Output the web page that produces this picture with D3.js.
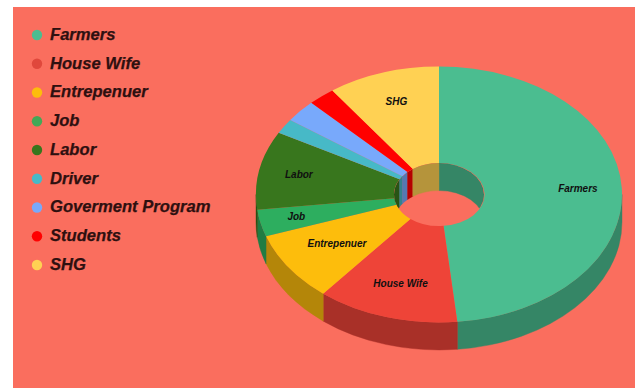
<!DOCTYPE html>
<html>
<head>
<meta charset="utf-8">
<script src="https://cdn.jsdelivr.net/npm/d3@7/dist/d3.min.js"></script>
<style>
  html, body { margin: 0; padding: 0; background: #fff; }
  svg { display: block; }
  text { font-family: "Liberation Sans", Arial, sans-serif; font-weight: bold; font-style: italic; }
</style>
</head>
<body>
<div id="chart"></div>
<script>
// Occupation shares, in percent, clockwise from twelve o'clock
const categories = ["Farmers", "House Wife", "Entrepenuer", "Job", "Labor", "Driver", "Goverment Program", "Students", "SHG"];
const shares = [48.4, 12.5, 8.8, 3.4, 9.9, 1.9, 2.8, 2.4, 9.9];
const colors = ["#4bbd90", "#ee4438", "#fdbd0c", "#2dae5f", "#38761d", "#47b9c7", "#78a9fb", "#ff0000", "#ffd153"];
const legendDotColors = ["#4bbd90", "#e0483c", "#fdbd0c", "#43a857", "#38761d", "#47b9c7", "#78a9fb", "#ff0000", "#ffd153"];
const slicesWithLabels = ["Farmers", "House Wife", "Entrepenuer", "Job", "Labor", "SHG"];
// How far out along its slice each label sits (0 = centre, 1 = rim)
const labelReach = [0.76, 0.73, 0.68, 0.8, 0.78, 0, 0, 0, 0.76];

const width = 635, height = 388;
const cx = 439, cy = 194.5, rx = 183, ry = 128, depth = 27.5;
const holeRatio = 0.246;
const PI = Math.PI;

const svg = d3.select("#chart").append("svg").attr("width", width).attr("height", height);

svg.append("rect").attr("x", 13).attr("y", 7).attr("width", width - 13).attr("height", height - 7).attr("fill", "#fa6e5e");

// Darkened tone for the extruded walls
const shade = c => {
  const k = d3.rgb(c);
  return d3.rgb(k.r * 0.71, k.g * 0.71, k.b * 0.71).formatHex();
};

const pie = d3.pie().value(d => d.value).sort(null);
const slices = pie(categories.map((name, i) => ({ name, value: shares[i], color: colors[i], reach: labelReach[i] })));

const px = (a, r) => cx + rx * r * Math.sin(a);
const py = (a, r) => cy - ry * r * Math.cos(a);

// A band between an elliptical arc and the same arc pushed down by the depth
function band(a0, a1, r) {
  const x = rx * r, y = ry * r;
  return `M${px(a0, r)},${py(a0, r)}` +
    `A${x},${y} 0 0 1 ${px(a1, r)},${py(a1, r)}` +
    `L${px(a1, r)},${py(a1, r) + depth}` +
    `A${x},${y} 0 0 0 ${px(a0, r)},${py(a0, r) + depth}Z`;
}

function clamp(d, lo, hi) {
  const a0 = Math.max(d.startAngle, lo), a1 = Math.min(d.endAngle, hi);
  return a0 < a1 ? [a0, a1] : null;
}

// Outer wall: only the near half of the rim faces the viewer
const outerWalls = [];
slices.forEach(d => {
  const span = clamp(d, PI / 2, 3 * PI / 2);
  if (span) outerWalls.push({ d: band(span[0], span[1], 1), color: shade(d.data.color) });
});
svg.append("g").selectAll("path").data(outerWalls).join("path")
  .attr("d", d => d.d).attr("fill", d => d.color).attr("stroke", d => d.color).attr("stroke-width", 0.4);

// Top face
const topArc = d3.arc().innerRadius(holeRatio).outerRadius(1);
svg.append("g").attr("transform", `translate(${cx},${cy}) scale(${rx},${ry})`)
  .selectAll("path").data(slices).join("path")
  .attr("d", topArc).attr("fill", d => d.data.color);

// Inner wall: far half of the hole, visible only through the hole opening
svg.append("clipPath").attr("id", "hole").append("ellipse")
  .attr("cx", cx).attr("cy", cy).attr("rx", rx * holeRatio).attr("ry", ry * holeRatio);

const innerWalls = [];
slices.forEach(d => {
  [[0, PI / 2], [3 * PI / 2, 2 * PI]].forEach(([lo, hi]) => {
    const span = clamp(d, lo, hi);
    if (span) innerWalls.push({ d: band(span[0], span[1], holeRatio), color: shade(d.data.color) });
  });
});
svg.append("g").attr("clip-path", "url(#hole)").selectAll("path").data(innerWalls).join("path")
  .attr("d", d => d.d).attr("fill", d => d.color).attr("stroke", d => d.color).attr("stroke-width", 0.4);

// Slice labels
const labelPoint = d => d3.arc().innerRadius(d.data.reach).outerRadius(d.data.reach).centroid(d);
svg.append("g").selectAll("text")
  .data(slices.filter(d => slicesWithLabels.includes(d.data.name))).join("text")
  .attr("x", d => cx + rx * labelPoint(d)[0])
  .attr("y", d => cy + ry * labelPoint(d)[1])
  .attr("text-anchor", "middle").attr("dominant-baseline", "middle")
  .attr("font-size", 10).attr("fill", "#101010")
  .text(d => d.data.name);

// Legend
const legendY = d3.scalePoint().domain(categories).range([35, 265]);
const legend = svg.append("g").selectAll("g").data(categories).join("g")
  .attr("transform", d => `translate(37,${legendY(d)})`);
legend.append("circle").attr("r", 5.2).attr("fill", (d, i) => legendDotColors[i]);
legend.append("text").attr("x", 13).attr("y", 0.5).attr("dominant-baseline", "middle")
  .attr("font-size", 16.6).attr("fill", "#2e1010")
  .attr("stroke", "#2e1010").attr("stroke-width", 0.25).text(d => d);
</script>
</body>
</html>
